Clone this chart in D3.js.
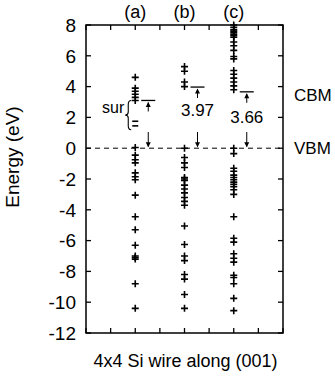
<!DOCTYPE html>
<meta charset="utf-8">
<head>
	<title>Si wire levels</title>
	<script type="text/javascript" src="https://cdn.jsdelivr.net/npm/d3@7"></script>
	<style>
		body { margin: 0; background: #fff; }
		text { font-family: "Liberation Sans", Arial, sans-serif; fill: #000; }
	</style>
</head>
<body>
	<div id="chart"></div>
	<script>
		// data
		var columns = ["(a)", "(b)", "(c)"];
		var columnPos = [2, 4, 6];
		var levelsA = [4.6, 3.9, 3.7, 3.5, 3.3, 3.1,
			0.05, -0.45, -0.75, -0.95, -1.6, -1.85, -2.05, -3.05, -4.45, -5.3, -6.3, -7.0, -7.1, -7.2, -8.8, -10.4];
		var levelsB = [5.3, 5.0, 4.3, 4.0,
			0.0, -0.6, -0.95, -1.25, -1.9, -2.0, -2.1, -2.4, -2.65, -2.9, -3.2, -3.45, -3.7,
			-5.05, -6.25, -7.0, -7.3, -8.2, -8.5, -9.5, -10.4];
		var levelsC = [8.0, 7.85, 7.7, 7.6, 7.5, 7.4, 7.3, 7.2, 6.9, 6.65, 6.35, 5.95, 5.8, 5.05, 4.8, 4.55, 4.3, 4.05, 3.8,
			0.0, -0.35, -1.3, -1.5, -1.75, -1.9, -2.05, -2.2, -2.35, -2.5, -2.7, -3.0,
			-4.45, -5.85, -6.1, -6.85, -7.15, -7.4, -8.25, -8.4, -8.8, -9.75, -10.55];
		var surfaceA = [1.75, 1.45];
		var cbm = [3.1, 3.97, 3.66];
		var gapLabels = ["", "3.97", "3.66"];
		var yTicks = d3.range(-12, 9, 2);
		var xTicks = d3.range(0, 9, 1);

		var margin = {top: 25, right: 52, bottom: 43, left: 86},
			width = 335 - margin.left - margin.right,
			height = 376 - margin.top - margin.bottom;

		var svg = d3.select("#chart").append("svg")
			.attr("width", 335)
			.attr("height", 376)
			.append("g")
			.attr("transform", "translate(" + margin.left + "," + margin.top + ")");

		var x = d3.scaleLinear().domain([0, 8]).range([0, width]);
		var y = d3.scaleLinear().domain([-12, 8]).range([height, 0]);

		// frame
		svg.append("rect")
			.attr("width", width).attr("height", height)
			.attr("fill", "none").attr("stroke", "#000").attr("stroke-width", 1.5);

		// inward ticks
		var tick = 5;
		svg.selectAll(".yl").data(yTicks).enter().append("line")
			.attr("x1", 0).attr("x2", tick)
			.attr("y1", d => y(d)).attr("y2", d => y(d))
			.attr("stroke", "#000").attr("stroke-width", 1.3);
		svg.selectAll(".yr").data(yTicks).enter().append("line")
			.attr("x1", width).attr("x2", width - tick)
			.attr("y1", d => y(d)).attr("y2", d => y(d))
			.attr("stroke", "#000").attr("stroke-width", 1.3);
		svg.selectAll(".xt").data(xTicks).enter().append("line")
			.attr("x1", d => x(d)).attr("x2", d => x(d))
			.attr("y1", 0).attr("y2", tick)
			.attr("stroke", "#000").attr("stroke-width", 1.3);
		svg.selectAll(".xb").data(xTicks).enter().append("line")
			.attr("x1", d => x(d)).attr("x2", d => x(d))
			.attr("y1", height).attr("y2", height - tick)
			.attr("stroke", "#000").attr("stroke-width", 1.3);

		// y tick labels
		svg.selectAll(".ylab").data(yTicks).enter().append("text")
			.attr("x", -10).attr("y", d => y(d))
			.attr("dy", "0.36em")
			.attr("text-anchor", "end")
			.style("font-size", "19px")
			.text(d => d);

		// column labels
		svg.selectAll(".clab").data(columns).enter().append("text")
			.attr("x", (d, i) => x(columnPos[i]))
			.attr("y", -7)
			.attr("text-anchor", "middle")
			.style("font-size", "18px")
			.text(d => d);

		// axis titles
		svg.append("text")
			.attr("transform", "translate(" + (-67) + "," + (157 - margin.top) + ") rotate(-90)")
			.attr("text-anchor", "middle")
			.style("font-size", "19px")
			.text("Energy (eV)");
		svg.append("text")
			.attr("x", width / 2 + 1).attr("y", height + 34)
			.attr("text-anchor", "middle")
			.style("font-size", "18px")
			.text("4x4 Si wire along (001)");
		svg.append("text")
			.attr("x", width + 11).attr("y", y(3.45)).attr("dy", "0.36em")
			.style("font-size", "17px").text("CBM");
		svg.append("text")
			.attr("x", width + 11).attr("y", y(0)).attr("dy", "0.36em")
			.style("font-size", "17px").text("VBM");

		// VBM dashed line
		svg.append("line")
			.attr("x1", 0).attr("x2", width)
			.attr("y1", y(0)).attr("y2", y(0))
			.attr("stroke", "#000").attr("stroke-width", 1)
			.attr("stroke-dasharray", "5,4");

		// levels as + markers
		var allLevels = [levelsA, levelsB, levelsC];
		var plus = "M-3.5,0H3.5M0,-3.5V3.5";
		allLevels.forEach(function(levels, i) {
			svg.selectAll(".p" + i).data(levels).enter().append("path")
				.attr("d", plus)
				.attr("transform", d => "translate(" + x(columnPos[i]) + "," + y(d) + ")")
				.attr("fill", "none").attr("stroke", "#000").attr("stroke-width", 1.6);
		});

		// surface states in (a)
		svg.selectAll(".sur").data(surfaceA).enter().append("line")
			.attr("x1", x(columnPos[0]) - 3).attr("x2", x(columnPos[0]) + 3)
			.attr("y1", d => y(d)).attr("y2", d => y(d))
			.attr("stroke", "#000").attr("stroke-width", 1.6);

		// brace + label
		var bx = x(columnPos[0]) - 7, bt = y(3.1), bb = y(1.2), bm = (bt + bb) / 2;
		svg.append("path")
			.attr("d", "M" + (bx + 3) + "," + bt + " Q" + bx + "," + bt + " " + bx + "," + (bt + 4) +
				" L" + bx + "," + (bm - 3) + " Q" + bx + "," + bm + " " + (bx - 3) + "," + bm +
				" Q" + bx + "," + bm + " " + bx + "," + (bm + 3) +
				" L" + bx + "," + (bb - 4) + " Q" + bx + "," + bb + " " + (bx + 3) + "," + bb)
			.attr("fill", "none").attr("stroke", "#000").attr("stroke-width", 1.1);
		svg.append("text")
			.attr("x", bx - 4).attr("y", bm - 2)
			.attr("text-anchor", "end")
			.style("font-size", "16px")
			.text("sur");

		// gap markers: CBM bar with up arrow, down arrow to VBM
		cbm.forEach(function(e, i) {
			var gx = x(columnPos[i]) + 13;
			var g = svg.append("g").attr("stroke", "#000").attr("fill", "#000");
			g.append("line")
				.attr("x1", gx - 7).attr("x2", gx + 7)
				.attr("y1", y(e)).attr("y2", y(e)).attr("stroke-width", 1.3);
			g.append("line")
				.attr("x1", gx).attr("x2", gx)
				.attr("y1", y(e) + 2).attr("y2", y(e) + 11).attr("stroke-width", 1);
			g.append("path")
				.attr("d", "M" + gx + "," + (y(e) + 1.5) + "l-2.5,5h5z").attr("stroke", "none");
			g.append("line")
				.attr("x1", gx).attr("x2", gx)
				.attr("y1", y(1.05)).attr("y2", y(0.1)).attr("stroke-width", 1);
			g.append("path")
				.attr("d", "M" + gx + "," + (y(0) - 1) + "l-2.5,-5h5z").attr("stroke", "none");
			if (gapLabels[i]) {
				svg.append("text")
					.attr("x", gx).attr("y", y((e + 1.05) / 2 + (i == 2 ? -0.3 : 0)))
					.attr("dy", "0.36em")
					.attr("text-anchor", "middle")
					.style("font-size", "17px")
					.text(gapLabels[i]);
			}
		});
	</script>
</body>
</html>
